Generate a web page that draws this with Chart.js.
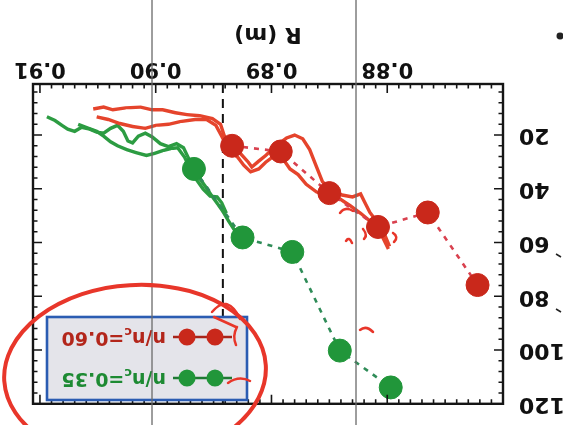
<!DOCTYPE html>
<html>
<head>
<meta charset="utf-8">
<script src="https://cdn.jsdelivr.net/npm/chart.js"></script>
<style>
  html, body { margin: 0; padding: 0; background: #fff; }
  #wrap { width: 563px; height: 425px; transform: rotate(180deg); background: #fff; }
</style>
</head>
<body>
<div id="wrap"><canvas id="scanChart" width="563" height="425"></canvas></div>
<script>
// axis ticks
const xTicks = [0.88, 0.89, 0.90, 0.91];
const yTicks = [20, 40, 60, 80, 100, 120];

// n/nc = 0.60 (measured points)
const redR = [0.8934, 0.8892, 0.8850, 0.8808, 0.8765, 0.8722];
const redY = [24.0, 26.1, 41.6, 54.2, 48.8, 75.8];

// n/nc = 0.35 (measured points)
const greenR = [0.8967, 0.8925, 0.8882, 0.8841, 0.8797];
const greenY = [32.6, 58.1, 63.5, 100.2, 113.9];

// continuous scans [R, y]
const redScanA = [
  [0.9054, 10.3], [0.9045, 9.6], [0.9037, 10.6], [0.9026, 9.9], [0.9013, 9.6],
  [0.9003, 10.6], [0.8994, 10.6], [0.8983, 11.7], [0.8973, 12.4], [0.8962, 12.8],
  [0.8951, 13.9], [0.8944, 16.0], [0.8941, 20.0], [0.8936, 23.6], [0.8927, 26.8],
  [0.8920, 30.1], [0.8917, 31.9], [0.8911, 29.7], [0.8905, 27.6], [0.8896, 24.0],
  [0.8887, 21.1], [0.8880, 20.0], [0.8873, 21.4], [0.8867, 25.4], [0.8861, 31.9],
  [0.8856, 37.3], [0.8849, 40.5], [0.8839, 42.3], [0.8830, 43.0], [0.8823, 41.9],
  [0.8820, 44.5], [0.8815, 48.8], [0.8808, 52.7], [0.8803, 56.3], [0.8798, 61.4]
];
const redScanB = [
  [0.9051, 13.2], [0.9041, 14.2], [0.9031, 15.7], [0.9020, 16.8], [0.9009, 17.5],
  [0.9000, 16.4], [0.8989, 16.0], [0.8979, 15.0], [0.8966, 14.2], [0.8956, 14.2],
  [0.8948, 16.4], [0.8943, 20.4], [0.8937, 25.4], [0.8929, 28.3], [0.8924, 31.2],
  [0.8918, 33.7], [0.8911, 32.6], [0.8905, 30.1], [0.8896, 27.2], [0.8891, 28.3],
  [0.8884, 32.6], [0.8877, 34.7], [0.8870, 38.3], [0.8861, 41.2], [0.8851, 42.3],
  [0.8841, 43.7], [0.8832, 46.3], [0.8823, 49.1], [0.8815, 52.0], [0.8806, 56.3],
  [0.8799, 62.4]
];
const greenScanA = [
  [0.9094, 13.2], [0.9087, 14.6], [0.9081, 16.4], [0.9076, 17.8], [0.9070, 18.6],
  [0.9064, 17.1], [0.9057, 17.8], [0.9051, 18.9], [0.9045, 19.3], [0.9039, 17.5],
  [0.9033, 16.4], [0.9028, 18.6], [0.9024, 22.2], [0.9020, 22.9], [0.9015, 20.4],
  [0.9009, 19.3], [0.9003, 20.7], [0.8996, 23.2], [0.8989, 24.3], [0.8982, 23.2],
  [0.8976, 24.7], [0.8972, 28.3], [0.8967, 32.6], [0.8962, 36.2], [0.8956, 39.8],
  [0.8951, 43.0], [0.8946, 45.9], [0.8942, 48.4], [0.8937, 52.0], [0.8932, 55.3],
  [0.8926, 58.5]
];
const greenScanB = [
  [0.9067, 16.0], [0.9058, 17.5], [0.9051, 18.6], [0.9045, 20.4], [0.9039, 22.5],
  [0.9033, 24.0], [0.9025, 25.4], [0.9017, 26.5], [0.9008, 27.6], [0.9001, 26.8],
  [0.8994, 25.8], [0.8987, 25.0], [0.8981, 24.7], [0.8975, 28.3], [0.8970, 32.6],
  [0.8965, 36.5], [0.8959, 40.1], [0.8953, 42.7], [0.8947, 43.0], [0.8943, 45.2],
  [0.8939, 49.1]
];

// dashed reference position
const cutR = 0.8942;

const RED = '#c9281b';
const GREEN = '#21963a';
const tickFont = { family: 'DejaVu Sans', weight: 'bold', size: 21 };

const pts = (xs, ys) => xs.map((x, i) => ({ x: x, y: ys[i] }));
const pairs = arr => arr.map(p => ({ x: p[0], y: p[1] }));

function markerSet(label, xs, ys, line, fill) {
  return {
    label: label, data: pts(xs, ys), showLine: true, order: 0,
    borderColor: line, borderWidth: 2.6, borderDash: [5, 6],
    pointRadius: 11.5, pointBackgroundColor: fill, pointBorderColor: fill, pointBorderWidth: 1
  };
}
function scanSet(arr, color) {
  return { data: pairs(arr), showLine: true, order: 1, pointRadius: 0,
           borderColor: color, borderWidth: 3.4, tension: 0 };
}

// box, inward ticks on all four sides, and the dashed marker line
const framePlugin = {
  id: 'frame',
  beforeDatasetsDraw(chart) {
    const { ctx, chartArea: a, scales: { x } } = chart;
    const px = x.getPixelForValue(cutR);
    ctx.save();
    ctx.strokeStyle = '#111';
    ctx.lineWidth = 2;
    ctx.setLineDash([9, 6]);
    ctx.beginPath();
    ctx.moveTo(px, a.bottom);
    ctx.lineTo(px, a.top);
    ctx.stroke();
    ctx.restore();
  },
  afterDatasetsDraw(chart) {
    const { ctx, chartArea: a, scales: { x, y } } = chart;
    ctx.save();
    ctx.strokeStyle = '#151515';
    ctx.lineWidth = 1.6;
    ctx.beginPath();
    for (let i = 870; i <= 910; i++) {
      const px = x.getPixelForValue(i / 1000);
      const len = i % 10 === 0 ? 9 : 4.5;
      ctx.moveTo(px, a.bottom); ctx.lineTo(px, a.bottom - len);
      ctx.moveTo(px, a.top); ctx.lineTo(px, a.top + len);
    }
    for (let v = 4; v <= 120; v += 4) {
      const py = y.getPixelForValue(v);
      const len = v % 20 === 0 ? 9 : 4.5;
      ctx.moveTo(a.left, py); ctx.lineTo(a.left + len, py);
      ctx.moveTo(a.right, py); ctx.lineTo(a.right - len, py);
    }
    ctx.stroke();
    ctx.lineWidth = 2.4;
    ctx.strokeRect(a.left, a.top, a.width, a.height);
    ctx.restore();
  }
};

function legendRow(ctx, cy, lineCol, dotCol, textCol, value) {
  ctx.strokeStyle = lineCol;
  ctx.lineWidth = 2.5;
  ctx.beginPath();
  ctx.moveTo(331, cy); ctx.lineTo(390, cy);
  ctx.stroke();
  ctx.fillStyle = dotCol;
  [348, 376].forEach(cx => {
    ctx.beginPath(); ctx.arc(cx, cy, 8.5, 0, Math.PI * 2); ctx.fill();
  });
  ctx.fillStyle = textCol;
  ctx.textBaseline = 'middle';
  ctx.textAlign = 'left';
  let tx = 397;
  ctx.font = 'bold 19px "DejaVu Sans"';
  ctx.fillText('n/n', tx, cy);
  tx += ctx.measureText('n/n').width;
  ctx.font = 'bold 13px "DejaVu Sans"';
  ctx.fillText('c', tx, cy + 6);
  tx += ctx.measureText('c').width;
  ctx.font = 'bold 19px "DejaVu Sans"';
  ctx.fillText('=' + value, tx, cy);
}

// legend, page rulings and pen marks
const notesPlugin = {
  id: 'notes',
  afterDraw(chart) {
    const ctx = chart.ctx;
    ctx.save();

    ctx.fillStyle = '#e4e4ea';
    ctx.fillRect(316, 25, 200, 83);
    ctx.strokeStyle = '#2b5cb2';
    ctx.lineWidth = 2.6;
    ctx.strokeRect(316, 25, 200, 83);
    legendRow(ctx, 47, '#1f7a34', GREEN, '#1d8a33', '0.35');
    legendRow(ctx, 88, '#a8241a', RED, '#b3261b', '0.60');

    // ruled lines across the sheet
    ctx.strokeStyle = '#6a6a6a';
    ctx.lineWidth = 1.3;
    ctx.beginPath();
    ctx.moveTo(411, 0); ctx.lineTo(411, 425);
    ctx.moveTo(207, 0); ctx.lineTo(207, 425);
    ctx.stroke();

    // stray ink
    ctx.fillStyle = '#222';
    ctx.beginPath(); ctx.arc(3, 389, 3.5, 0, Math.PI * 2); ctx.fill();
    ctx.strokeStyle = '#222';
    ctx.lineWidth = 1.5;
    ctx.beginPath();
    ctx.moveTo(2, 168); ctx.lineTo(7, 171);
    ctx.moveTo(2, 113); ctx.lineTo(7, 116);
    ctx.stroke();

    // red pen
    ctx.strokeStyle = '#e8362a';
    ctx.lineCap = 'round';
    ctx.lineWidth = 4;
    ctx.beginPath();
    ctx.ellipse(428, 52, 131, 88, -0.06, 0, Math.PI * 2);
    ctx.stroke();
    ctx.lineWidth = 2.5;
    ctx.beginPath();
    ctx.moveTo(351, 113); ctx.quadraticCurveTo(335, 132, 323, 106);
    ctx.moveTo(349, 108); ctx.lineTo(327, 98);
    ctx.moveTo(326, 98); ctx.quadraticCurveTo(331, 89, 327, 80);
    ctx.moveTo(335, 42); ctx.quadraticCurveTo(324, 50, 313, 44);
    ctx.moveTo(203, 95); ctx.quadraticCurveTo(197, 100, 190, 93);
    ctx.moveTo(223, 212); ctx.quadraticCurveTo(218, 219, 210, 214);
    ctx.moveTo(217, 184); ctx.quadraticCurveTo(214, 189, 211, 182);
    ctx.moveTo(200, 196); ctx.quadraticCurveTo(195, 190, 199, 186);
    ctx.moveTo(170, 192); ctx.quadraticCurveTo(164, 188, 169, 183);
    ctx.stroke();

    ctx.restore();
  }
};

new Chart(document.getElementById('scanChart'), {
  type: 'scatter',
  data: {
    datasets: [
      markerSet('n/nc=0.60', redR, redY, '#d9414f', RED),
      markerSet('n/nc=0.35', greenR, greenY, '#2f8c58', GREEN),
      scanSet(redScanA, '#e5442c'),
      scanSet(redScanB, '#e5442c'),
      scanSet(greenScanA, '#2c9c42'),
      scanSet(greenScanB, '#2c9c42')
    ]
  },
  options: {
    responsive: false,
    animation: false,
    layout: { padding: { left: 0, right: 33, top: 12, bottom: 0 } },
    plugins: { legend: { display: false }, tooltip: { enabled: false } },
    scales: {
      x: {
        type: 'linear', min: 0.870, max: 0.9106,
        grid: { display: false }, border: { display: false },
        ticks: { font: tickFont, color: '#111', padding: -5, autoSkip: false, maxRotation: 0,
                 callback: v => v.toFixed(2) },
        afterBuildTicks: s => { s.ticks = xTicks.map(v => ({ value: v })); },
        afterFit: s => { s.height = 84; },
        title: { display: true, text: 'R (m)', color: '#111',
                 font: { family: 'DejaVu Sans', weight: 'bold', size: 22 },
                 padding: { top: 0, bottom: 21 } }
      },
      y: {
        type: 'linear', min: 1, max: 120,
        grid: { display: false }, border: { display: false },
        ticks: { font: { family: 'DejaVu Sans', weight: 'bold', size: 22 }, color: '#111',
                 padding: 8, autoSkip: false },
        afterBuildTicks: s => { s.ticks = yTicks.map(v => ({ value: v })); },
        afterFit: s => { s.width = 60; }
      }
    }
  },
  plugins: [framePlugin, notesPlugin]
});
</script>
</body>
</html>
